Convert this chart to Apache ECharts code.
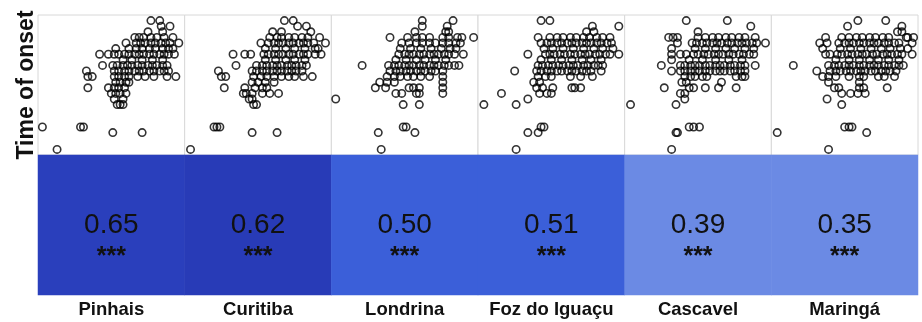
<!DOCTYPE html>
<html>
<head>
<meta charset="utf-8">
<script src="https://cdn.jsdelivr.net/npm/echarts@6/dist/echarts.min.js"></script>
<style>
  html, body { margin: 0; padding: 0; background: #fff; }
  #chart { width: 922px; height: 322px; }
</style>
</head>
<body>
<div id="chart"></div>
<script>
// Cities, their correlation with time of onset, and significance stars
const cities = ['Pinhais', 'Curitiba', 'Londrina', 'Foz do Iguaçu', 'Cascavel', 'Maringá'];
const correlation = [0.65, 0.62, 0.50, 0.51, 0.39, 0.35];
const significance = ['***', '***', '***', '***', '***', '***'];

// Per-city scatter: [connectivity index (0-100), time of onset (week)]
const onsetPinhais = [
  [3,4],[13,0],[29,4],[31,4],[51,3],[71,3],[34,11],[33,14],[34,13],[37,13],[42,17],[44,15],
  [54,8],[56,8],[58,8],[52,9],[58,9],[50,10],[53,10],[56,10],[60,10],[48,11],[52,11],[55,11],[59,11],
  [53,12],[56,12],[60,12],[62,12],
  [52,13],[55,13],[59,13],[62,13],[68,13],[73,13],[79,13],[88,13],[94,13],
  [52,14],[55,14],[59,14],[62,14],[66,14],[69,14],[72,14],[76,14],[79,14],[83,14],[86,14],[89,14],
  [51,15],[54,15],[58,15],[61,15],[64,15],[68,15],[71,15],[75,15],[78,15],[81,15],[85,15],[88,15],
  [58,16],[64,16],[71,16],[78,16],[85,16],
  [48,17],[52,17],[55,17],[59,17],[62,17],[66,17],[69,17],[72,17],[76,17],[79,17],[83,17],[86,17],[89,17],[93,17],
  [53,18],[62,18],[67,18],[71,18],[76,18],[80,18],[85,18],[89,18],[92,18],
  [60,19],[67,19],[70,19],[73,19],[77,19],[80,19],[84,19],[87,19],[90,19],[96,19],
  [66,20],[69,20],[72,20],[77,20],[81,20],[86,20],[92,20],
  [75,21],[85,21],[84,22],[90,22],[77,23],[83,23]
];
const onsetCuritiba = [
  [4,0],[20,4],[22,4],[24,4],[46,3],[63,3],[27,11],[23,14],[25,13],[28,13],[33,17],[35,15],[41,17],[45,17],
  [47,8],[49,8],[44,9],[46,9],[40,10],[42,10],[46,10],[53,10],[58,10],[64,10],
  [41,11],[48,11],[53,11],[56,11],[46,12],[50,12],[55,12],[61,12],
  [47,13],[52,13],[56,13],[61,13],[66,13],[71,13],[75,13],[81,13],[87,13],
  [46,14],[49,14],[53,14],[56,14],[60,14],[63,14],[66,14],[70,14],[73,14],[76,14],[80,14],
  [49,15],[53,15],[56,15],[60,15],[63,15],[66,15],[70,15],[73,15],[76,15],[80,15],[83,15],
  [55,16],[62,16],[69,16],[75,16],[82,16],
  [54,17],[57,17],[61,17],[64,17],[67,17],[71,17],[74,17],[78,17],[81,17],[84,17],[89,17],[93,17],
  [55,18],[62,18],[69,18],[75,18],[82,18],[89,18],[91,18],
  [52,19],[57,19],[61,19],[64,19],[67,19],[71,19],[74,19],[78,19],[81,19],[84,19],[88,19],[96,19],
  [58,20],[63,20],[66,20],[71,20],[75,20],[80,20],[84,20],[92,20],
  [60,21],[66,21],[86,21],[77,22],[83,22],[68,23],[74,23]
];
const onsetLondrina = [
  [34,0],[32,3],[57,3],[49,4],[51,4],[3,9],[49,8],[60,8],[21,15],[40,20],
  [30,11],[37,11],[53,11],[56,11],[60,11],[76,11],[44,10],[48,10],[58,10],[60,10],[76,10],
  [33,12],[38,12],[43,12],[76,12],
  [38,13],[43,13],[47,13],[52,13],[56,13],[61,13],[67,13],[76,13],
  [40,14],[44,14],[47,14],[51,14],[54,14],[58,14],[61,14],[64,14],[68,14],[71,14],[76,14],
  [39,15],[43,15],[46,15],[50,15],[53,15],[56,15],[60,15],[63,15],[67,15],[70,15],[73,15],[77,15],[80,15],[84,15],[87,15],
  [44,16],[51,16],[58,16],[64,16],[71,16],[78,16],
  [46,17],[50,17],[53,17],[56,17],[60,17],[63,17],[67,17],[70,17],[73,17],[77,17],[80,17],[84,17],[90,17],
  [47,18],[54,18],[61,18],[68,18],[75,18],[81,18],[85,18],
  [48,19],[53,19],[58,19],[62,19],[67,19],[71,19],[76,19],[80,19],[85,19],[88,19],
  [52,20],[58,20],[62,20],[67,20],[76,20],[80,20],[86,20],[89,20],[97,20],
  [57,21],[78,21],[80,21],[62,22],[79,22],[62,23],[83,23]
];
const onsetFoz = [
  [26,0],[34,3],[41,3],[43,4],[45,4],[4,8],[26,8],[16,10],[34,9],[25,14],[34,17],[41,20],
  [43,23],[49,23],[78,22],[96,22],
  [38,12],[42,12],[40,11],[44,11],[51,11],[64,11],[66,11],[70,11],[42,10],[47,10],[50,10],
  [41,13],[46,13],[50,13],[63,13],[70,13],[78,13],
  [40,14],[43,14],[47,14],[50,14],[54,14],[57,14],[61,14],[64,14],[67,14],[71,14],[74,14],[77,14],[84,14],
  [41,15],[44,15],[48,15],[51,15],[55,15],[58,15],[62,15],[65,15],[68,15],[72,15],[75,15],[79,15],[82,15],[85,15],
  [43,16],[50,16],[57,16],[64,16],[71,16],[77,16],[84,16],
  [46,17],[49,17],[52,17],[56,17],[59,17],[63,17],[66,17],[70,17],[73,17],[76,17],[80,17],[83,17],[87,17],[90,17],[96,17],
  [45,18],[51,18],[58,18],[65,18],[72,18],[79,18],[85,18],[92,18],
  [43,19],[47,19],[50,19],[54,19],[57,19],[61,19],[64,19],[67,19],[71,19],[74,19],[77,19],[81,19],[84,19],[88,19],[91,19],
  [49,20],[54,20],[58,20],[63,20],[67,20],[72,20],[76,20],[81,20],[85,20],[90,20],
  [74,21],[79,21]
];
const onsetCascavel = [
  [32,0],[35,3],[36,3],[44,4],[47,4],[51,4],[4,8],[35,8],[41,9],[27,11],[25,15],[32,14],
  [42,23],[70,23],[86,22],[50,21],[30,20],[33,20],[36,20],[96,19],[89,15],
  [39,12],[42,12],[66,12],[38,10],[41,10],[44,11],[47,11],[55,11],[64,11],[76,11],
  [41,13],[45,13],[48,13],[53,13],[56,13],[76,13],[80,13],[82,13],
  [38,14],[41,14],[45,14],[48,14],[51,14],[55,14],[58,14],[62,14],[65,14],[68,14],[72,14],[75,14],[79,14],[82,14],
  [38,15],[41,15],[45,15],[48,15],[51,15],[55,15],[58,15],[62,15],[65,15],[68,15],[72,15],[75,15],[79,15],[82,15],
  [32,16],[44,16],[53,16],[62,16],[71,16],[80,16],
  [32,17],[38,17],[42,17],[47,17],[50,17],[54,17],[57,17],[61,17],[64,17],[67,17],[71,17],[74,17],[78,17],[81,17],[85,17],[88,17],
  [32,18],[48,18],[55,18],[62,18],[69,18],[75,18],[82,18],[88,18],
  [36,19],[46,19],[49,19],[53,19],[56,19],[60,19],[63,19],[66,19],[70,19],[73,19],[77,19],[80,19],[83,19],[87,19],[90,19],
  [50,20],[55,20],[60,20],[64,20],[69,20],[73,20],[78,20],[82,20],[89,20]
];
const onsetMaringa = [
  [39,0],[4,3],[65,3],[50,4],[53,4],[55,4],[48,8],[38,9],[15,15],
  [52,22],[59,23],[78,23],[89,22],[86,21],[89,21],[93,20],[79,11],
  [31,14],[35,13],[39,12],[60,12],[43,11],[46,11],[60,11],[63,11],[48,10],[54,10],[59,10],[64,10],
  [39,13],[44,13],[53,13],[60,13],[63,13],[73,13],[77,13],[84,13],
  [40,14],[44,14],[47,14],[51,14],[54,14],[58,14],[61,14],[64,14],[68,14],[71,14],[75,14],[78,14],[81,14],[85,14],
  [39,15],[43,15],[46,15],[50,15],[53,15],[56,15],[60,15],[63,15],[67,15],[70,15],[73,15],[77,15],[80,15],[84,15],[87,15],[90,15],
  [44,16],[53,16],[60,16],[67,16],[73,16],[80,16],[87,16],
  [37,17],[40,17],[45,17],[48,17],[52,17],[55,17],[59,17],[62,17],[65,17],[69,17],[72,17],[76,17],[79,17],[82,17],[86,17],[89,17],[96,17],
  [35,18],[47,18],[54,18],[61,18],[68,18],[75,18],[81,18],[88,18],[93,18],
  [33,19],[38,19],[46,19],[50,19],[53,19],[56,19],[60,19],[63,19],[67,19],[70,19],[73,19],[77,19],[80,19],[84,19],[87,19],[96,19],
  [37,20],[48,20],[53,20],[58,20],[62,20],[67,20],[71,20],[76,20],[80,20],[92,20],[97,20]
];

const pointsByCity = [onsetPinhais, onsetCuritiba, onsetLondrina, onsetFoz, onsetCascavel, onsetMaringa];

// Layout
const FONT = '"Liberation Sans", Arial, Helvetica, sans-serif';
const plotLeft = 38, plotRight = 918;
const panelWidth = (plotRight - plotLeft) / cities.length;
const scatterTop = 15, scatterHeight = 140;
const tileTop = scatterTop + scatterHeight, tileHeight = 140;

// Tile colour by correlation strength
const tilePieces = [
  { gte: 0.64, color: '#2a3fbc' },
  { gte: 0.60, lt: 0.64, color: '#283bb7' },
  { gte: 0.45, lt: 0.60, color: '#3b5fd9' },
  { lt: 0.45, color: '#6b8ae4' }
];

const grid = [], xAxis = [], yAxis = [], series = [];

cities.forEach((city, i) => {
  grid.push({
    left: plotLeft + i * panelWidth, top: scatterTop,
    width: panelWidth, height: scatterHeight,
    show: true, borderColor: '#d8d8d8', borderWidth: 1, backgroundColor: '#fff'
  });
  xAxis.push({ type: 'value', gridIndex: i, min: 0, max: 100, show: false });
  yAxis.push({
    type: 'value', gridIndex: i, min: -1, max: 24,
    show: i === 0,
    name: i === 0 ? 'Time of onset' : '',
    nameLocation: 'middle', nameRotate: 90, nameGap: 0,
    nameTextStyle: { fontSize: 23, fontWeight: 'bold', color: '#111', fontFamily: FONT },
    axisLine: { show: false }, axisTick: { show: false },
    axisLabel: { show: false }, splitLine: { show: false }
  });
  series.push({
    type: 'scatter', xAxisIndex: i, yAxisIndex: i,
    data: pointsByCity[i],
    symbol: 'circle', symbolSize: 7.4, clip: false,
    itemStyle: { color: 'rgba(0,0,0,0)', borderColor: '#000', borderWidth: 1.6 },
    emphasis: { disabled: true }, silent: true
  });
});

// Correlation tiles
const tileGrid = cities.length;
grid.push({ left: plotLeft, top: tileTop, width: plotRight - plotLeft, height: tileHeight });
xAxis.push({
  type: 'category', gridIndex: tileGrid, data: cities,
  axisLine: { show: false }, axisTick: { show: false }, splitLine: { show: false },
  axisLabel: { interval: 0, margin: 5, fontSize: 18.5, fontWeight: 'bold', color: '#111', fontFamily: FONT }
});
yAxis.push({ type: 'category', gridIndex: tileGrid, data: ['r'], show: false });
series.push({
  type: 'heatmap', xAxisIndex: tileGrid, yAxisIndex: tileGrid,
  data: correlation.map((r, i) => [i, 0, r]),
  label: {
    show: true, offset: [0, 17],
    formatter: p => `{v|${p.value[2].toFixed(2)}}\n{s|${significance[p.dataIndex]}}`,
    rich: {
      v: { fontSize: 28, lineHeight: 30, color: '#111', fontFamily: FONT },
      s: { fontSize: 25, lineHeight: 34, fontWeight: 'bold', color: '#111', fontFamily: FONT }
    }
  },
  emphasis: { disabled: true }, silent: true
});

const chart = echarts.init(document.getElementById('chart'), null, { renderer: 'canvas' });
chart.setOption({
  backgroundColor: '#fff',
  animation: false,
  grid, xAxis, yAxis, series,
  visualMap: {
    type: 'piecewise', show: false, seriesIndex: tileGrid, dimension: 2,
    pieces: tilePieces
  }
});
</script>
</body>
</html>
